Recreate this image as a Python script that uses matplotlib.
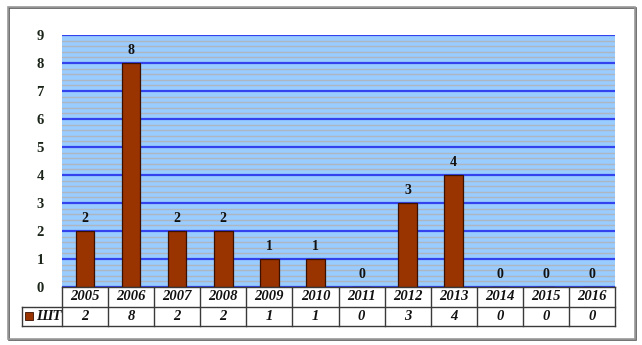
import matplotlib
matplotlib.use("Agg")
import matplotlib.pyplot as plt
from matplotlib.patches import Rectangle
from matplotlib.ticker import MultipleLocator

years = ['2005', '2006', '2007', '2008', '2009', '2010',
         '2011', '2012', '2013', '2014', '2015', '2016']
counts = [2, 8, 2, 2, 1, 1, 0, 3, 4, 0, 0, 0]
series_name = 'ШТ'

W, H = 642, 345
bar_color = '#993300'
font = 'Liberation Serif'

fig = plt.figure(figsize=(W / 100, H / 100), dpi=100)

# outer frame with a small shadow on the right/bottom
fig.patches.append(Rectangle((9 / W, 1 - 340 / H), (636 - 9) / W, (340 - 8) / H,
                             transform=fig.transFigure, fill=False,
                             edgecolor='#5a5a5a', linewidth=1.2))
fig.patches.append(Rectangle((8 / W, 1 - 339 / H), (635 - 8) / W, (339 - 7) / H,
                             transform=fig.transFigure, fill=False,
                             edgecolor='#9a9a9a', linewidth=1.2))

# plot area: x 62..615, y 35..287 (pixels)
ax = fig.add_axes([62 / W, 1 - 287 / H, (615 - 62) / W, (287 - 35) / H])
ax.set_facecolor('#99ccff')
x = list(range(len(years)))
ax.bar(x, counts, width=0.4, color=bar_color, edgecolor='#3a1000',
       linewidth=0.9, zorder=3)
for xi, v in zip(x, counts):
    ax.annotate(str(v), (xi, v), xytext=(0, 4), textcoords='offset points',
                ha='center', va='bottom', fontsize=10, fontweight='bold',
                family=font, color='#111111', zorder=4)

ax.set_xlim(-0.5, len(years) - 0.5)
ax.set_ylim(0, 9)
ax.yaxis.set_major_locator(MultipleLocator(1))
ax.yaxis.set_minor_locator(MultipleLocator(0.2))
ax.grid(which='minor', axis='y', color='#aeb6c0', linewidth=1.0, zorder=1)
ax.grid(which='major', axis='y', color='#3344ee', linewidth=1.6, zorder=2)
ax.set_xticks([])
ax.tick_params(axis='y', which='both', length=0, pad=13)
for lbl in ax.get_yticklabels():
    lbl.set_fontfamily(font)
    lbl.set_fontweight('bold')
    lbl.set_fontsize(10.5)
    lbl.set_color('#1a2418')
for s in ax.spines.values():
    s.set_visible(False)

# data table under the plot: x 22..615, y 287..326
unit = (615 - 62) / len(years)
left = -0.5 - (62 - 22) / unit
tx = fig.add_axes([22 / W, 1 - 326 / H, (615 - 22) / W, (326 - 287) / H])
tx.set_xlim(left, len(years) - 0.5)
tx.set_ylim(0, 2)
tx.axis('off')
line_kw = dict(color='#3a3a3a', linewidth=1.0, clip_on=False)
tx.plot([-0.5, len(years) - 0.5], [2, 2], **line_kw)
tx.plot([left, len(years) - 0.5], [1, 1], **line_kw)
tx.plot([left, len(years) - 0.5], [0, 0], **line_kw)
tx.plot([left, left], [0, 1], **line_kw)
for i in range(len(years) + 1):
    tx.plot([i - 0.5, i - 0.5], [0, 2], **line_kw)
for xi, (yr, v) in enumerate(zip(years, counts)):
    tx.text(xi, 1.5, yr, ha='center', va='center', fontsize=10.5,
            fontweight='bold', fontstyle='italic', family=font, color='#111111')
    tx.text(xi, 0.5, str(v), ha='center', va='center', fontsize=10.5,
            fontweight='bold', fontstyle='italic', family=font, color='#111111')
tx.plot([left + 0.15], [0.5], marker='s', markersize=6, color=bar_color,
        markeredgecolor='#3a1000', markeredgewidth=0.6, clip_on=False)
tx.text(left + 0.3, 0.5, series_name, ha='left', va='center', fontsize=10.5,
        fontweight='bold', fontstyle='italic', family=font, color='#111111')

fig.savefig('out.png', dpi=100)
